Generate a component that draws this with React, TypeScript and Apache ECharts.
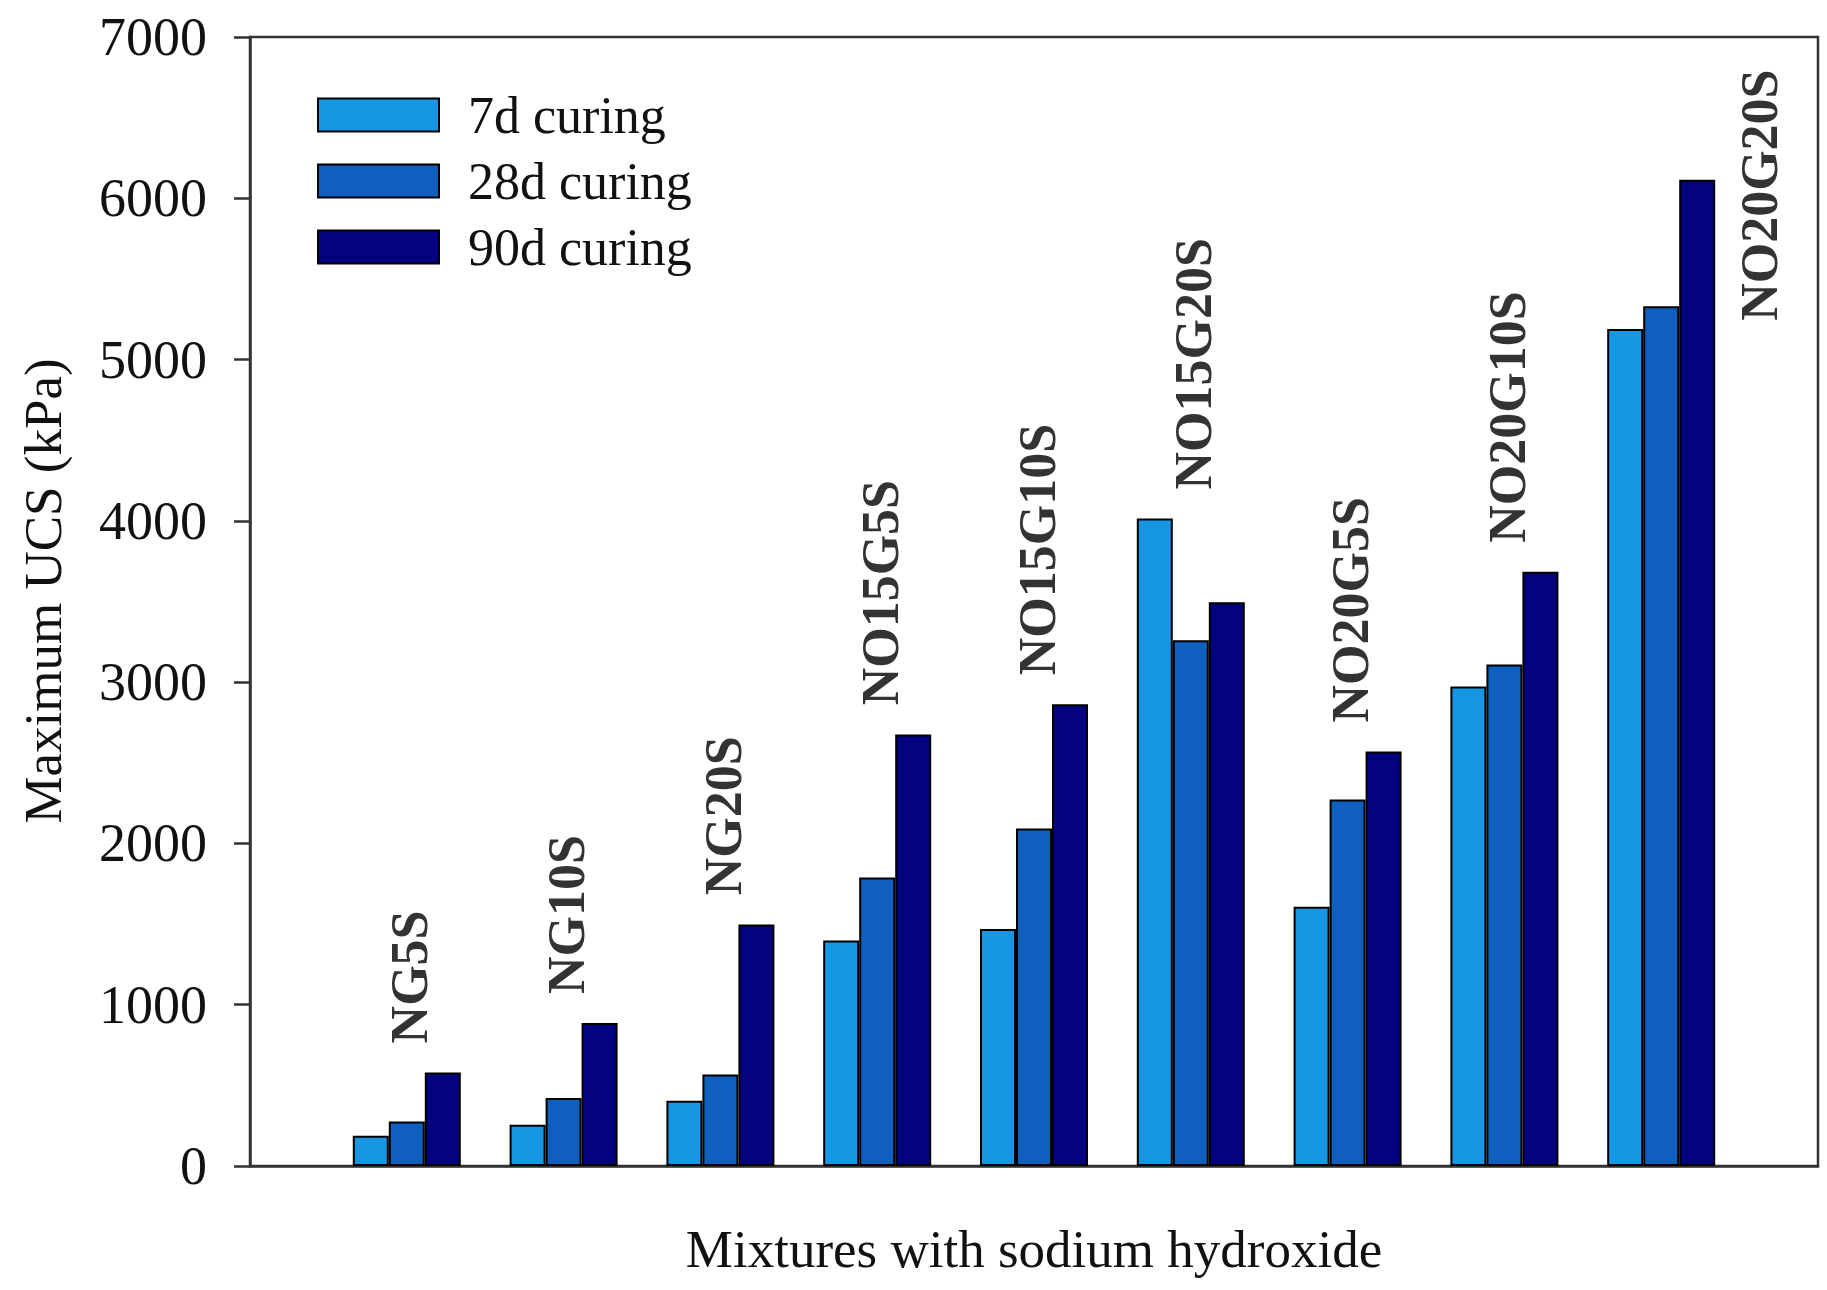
import React, { useEffect, useRef } from "react";
import * as echarts from "echarts";

const categories = ["NG5S", "NG10S", "NG20S", "NO15G5S", "NO15G10S", "NO15G20S", "NO20G5S", "NO20G10S", "NO20G20S"];
const seriesNames = ["7d curing", "28d curing", "90d curing"];
const ucs7d = [188, 256, 405, 1398, 1470, 4014, 1607, 2973, 5189];
const ucs28d = [276, 422, 568, 1789, 2092, 3260, 2272, 3110, 5331];
const ucs90d = [580, 886, 1498, 2676, 2863, 3495, 2570, 3684, 6115];
const yTicks = [0, 1000, 2000, 3000, 4000, 5000, 6000, 7000];

const colors = ["#1796e4", "#0f5fbf", "#030380"];
const FONT = "'Liberation Serif', 'Times New Roman', serif";

export default function App() {
  const ref = useRef<HTMLDivElement>(null);
  useEffect(() => {
    if (!ref.current) return;
    const chart = echarts.init(ref.current, null, { renderer: "svg" });
    const all = [ucs7d, ucs28d, ucs90d];
    const labelData = categories.map((name, i) => {
      const mx = Math.max(ucs7d[i], ucs28d[i], ucs90d[i]);
      if (i === categories.length - 1) return { name, value: [i + 1.63, 5240] };
      return { name, value: [i + 1.02, mx + 180] };
    });
    chart.setOption({
      animation: false,
      backgroundColor: "#ffffff",
      grid: { left: 250, right: 9, top: 37, bottom: 124, show: true, borderColor: "#333", borderWidth: 2.5, backgroundColor: "transparent" },
      legend: {
        show: true,
        orient: "vertical",
        left: 317,
        top: 89,
        padding: 0,
        itemWidth: 121,
        itemHeight: 33,
        itemGap: 14,
        icon: "rect",
        data: seriesNames,
        textStyle: { fontSize: 52, fontFamily: FONT, color: "#111", padding: [0, 0, 0, 24] },
      },
      xAxis: {
        type: "value",
        min: 0,
        max: 10,
        axisLine: { show: true, lineStyle: { color: "#333", width: 2.5 } },
        axisTick: { show: false },
        axisLabel: { show: false },
        splitLine: { show: false },
      },
      yAxis: {
        type: "value",
        min: 0,
        max: 7000,
        interval: 1000,
        axisLine: { show: true, lineStyle: { color: "#333", width: 2.5 } },
        axisTick: { show: true, inside: false, length: 16, lineStyle: { color: "#333", width: 2.5 } },
        axisLabel: { fontSize: 54, fontFamily: FONT, color: "#111", margin: 43, formatter: (v: number) => (yTicks.includes(v) ? String(v) : "") },
        splitLine: { show: false },
      },
      graphic: [
        {
          type: "text",
          x: 1034,
          y: 1249,
          style: { text: "Mixtures with sodium hydroxide", fontSize: 53, fontFamily: FONT, fill: "#111", align: "center", verticalAlign: "middle" },
        },
        {
          type: "text",
          x: 43,
          y: 591,
          rotation: Math.PI / 2,
          style: { text: "Maximum UCS (kPa)", fontSize: 53, fontFamily: FONT, fill: "#111", align: "center", verticalAlign: "middle" },
        },
      ],
      series: [
        ...all.map((arr, k) => ({
          type: "bar",
          name: seriesNames[k],
          barWidth: 36,
          barGap: "0%",
          data: arr.map((v, i) => [i + 1, v]),
          itemStyle: { color: colors[k], borderColor: "#000", borderWidth: 2 },
        })),
        {
          type: "scatter",
          name: "labels",
          symbolSize: 1,
          itemStyle: { color: "transparent" },
          data: labelData,
          label: {
            show: true,
            position: "inside",
            formatter: (p: any) => p.name,
            rotate: 90,
            align: "left",
            verticalAlign: "middle",
            fontSize: 52,
            fontWeight: "bold",
            fontFamily: FONT,
            color: "#000",
          },
        },
      ],
    });
    return () => chart.dispose();
  }, []);
  return <div ref={ref} style={{ position: "fixed", left: 0, top: 0, width: 1827, height: 1290 }} />;
}
